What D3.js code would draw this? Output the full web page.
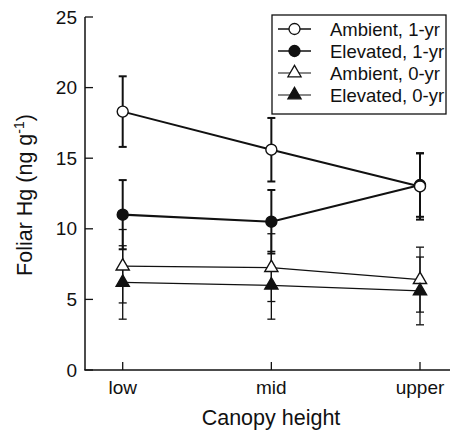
<!DOCTYPE html>
<html>
<head>
<meta charset="utf-8">
<script src="https://cdn.jsdelivr.net/npm/d3@7"></script>
<style>
  body { margin: 0; background: #fff; }
  text { font-family: "Liberation Sans", Arial, sans-serif; fill: #111; }
</style>
</head>
<body>
<div id="chart"></div>
<script>
// canopy positions and y ticks
const heights = ["low", "mid", "upper"];
const yTicks = [0, 5, 10, 15, 20, 25];

// series means and error bars (ng g-1)
const ambient1Mean = [18.3, 15.6, 13.0];
const ambient1Err = [2.5, 2.25, 2.35];
const elevated1Mean = [11.0, 10.5, 13.1];
const elevated1Err = [2.45, 2.25, 2.25];
const ambient0Mean = [7.35, 7.25, 6.4];
const ambient0Err = [2.6, 2.4, 2.3];
const elevated0Mean = [6.2, 6.0, 5.6];
const elevated0Err = [2.6, 2.4, 2.4];

const seriesNames = ["Ambient, 1-yr", "Elevated, 1-yr", "Ambient, 0-yr", "Elevated, 0-yr"];

const series = [
  { name: seriesNames[0], mean: ambient1Mean, err: ambient1Err, shape: d3.symbolCircle, fill: "#fff", lw: 2, size: 95 },
  { name: seriesNames[1], mean: elevated1Mean, err: elevated1Err, shape: d3.symbolCircle, fill: "#111", lw: 2.2, size: 95 },
  { name: seriesNames[2], mean: ambient0Mean, err: ambient0Err, shape: d3.symbolTriangle, fill: "#fff", lw: 1.2, size: 75 },
  { name: seriesNames[3], mean: elevated0Mean, err: elevated0Err, shape: d3.symbolTriangle, fill: "#111", lw: 1.2, size: 75 }
];

const width = 452, height = 436;
const svg = d3.select("#chart").append("svg")
  .attr("width", width)
  .attr("height", height);

const axisLeftX = 85, axisRightX = 450;
const y = d3.scaleLinear().domain([0, 25]).range([370, 17]);
const x = d3.scalePoint().domain(heights).range([122.7, 420]);

// axes
svg.append("line")
  .attr("x1", axisLeftX).attr("x2", axisLeftX)
  .attr("y1", y(25)).attr("y2", y(0))
  .attr("stroke", "#111").attr("stroke-width", 1.5);
svg.append("line")
  .attr("x1", axisLeftX - 0.75).attr("x2", axisRightX)
  .attr("y1", y(0)).attr("y2", y(0))
  .attr("stroke", "#111").attr("stroke-width", 1.5);

svg.selectAll(".ytick").data(yTicks).enter().append("line")
  .attr("x1", axisLeftX).attr("x2", axisLeftX + 8)
  .attr("y1", d => y(d)).attr("y2", d => y(d))
  .attr("stroke", "#111").attr("stroke-width", 1.3);
svg.selectAll(".ylab").data(yTicks).enter().append("text")
  .attr("x", 77).attr("y", d => y(d))
  .attr("text-anchor", "end").attr("dominant-baseline", "central")
  .style("font-size", "19px")
  .text(d => d);

svg.selectAll(".xtick").data(heights).enter().append("line")
  .attr("x1", d => x(d)).attr("x2", d => x(d))
  .attr("y1", y(0)).attr("y2", y(0) - 8)
  .attr("stroke", "#111").attr("stroke-width", 1.3);
svg.selectAll(".xlab").data(heights).enter().append("text")
  .attr("x", d => x(d)).attr("y", 394)
  .attr("text-anchor", "middle")
  .style("font-size", "19px")
  .text(d => d);

// axis titles
svg.append("text")
  .attr("x", 271).attr("y", 425)
  .attr("text-anchor", "middle")
  .style("font-size", "21.5px")
  .text("Canopy height");

const yt = svg.append("text")
  .attr("transform", "translate(32,195) rotate(-90)")
  .attr("text-anchor", "middle")
  .style("font-size", "21.5px");
yt.append("tspan").text("Foliar Hg (ng g");
yt.append("tspan").attr("dy", -8).style("font-size", "14px").text("-1");
yt.append("tspan").attr("dy", 8).text(")");

// lines
const line = d3.line().x((d, i) => x(heights[i])).y(d => y(d));
series.forEach(s => {
  svg.append("path")
    .datum(s.mean)
    .attr("d", line)
    .attr("fill", "none")
    .attr("stroke", "#111")
    .attr("stroke-width", s.lw);
});

// error bars
series.forEach(s => {
  const g = svg.append("g").attr("stroke", "#111").attr("stroke-width", s.lw > 1.5 ? 2 : 1.3);
  s.mean.forEach((m, i) => {
    const cx = x(heights[i]);
    const lo = y(m - s.err[i]), hi = y(m + s.err[i]);
    g.append("line").attr("x1", cx).attr("x2", cx).attr("y1", lo).attr("y2", hi);
    g.append("line").attr("x1", cx - 4).attr("x2", cx + 4).attr("y1", lo).attr("y2", lo);
    g.append("line").attr("x1", cx - 4).attr("x2", cx + 4).attr("y1", hi).attr("y2", hi);
  });
});

// markers (open circles end up on top of the filled ones)
[series[1], series[0], series[2], series[3]].forEach(s => {
  svg.selectAll(null).data(s.mean).enter().append("path")
    .attr("transform", (d, i) => `translate(${x(heights[i])},${y(d)})`)
    .attr("d", d3.symbol().type(s.shape).size(s.size))
    .attr("fill", s.fill)
    .attr("stroke", "#111")
    .attr("stroke-width", 1.4);
});

// legend
const legend = svg.append("g");
legend.append("rect")
  .attr("x", 272).attr("y", 15)
  .attr("width", 174).attr("height", 99)
  .attr("fill", "#fff")
  .attr("stroke", "#111").attr("stroke-width", 1.3);

series.forEach((s, i) => {
  const ly = 29 + i * 22;
  legend.append("line")
    .attr("x1", 278).attr("x2", 311)
    .attr("y1", ly).attr("y2", ly)
    .attr("stroke", "#111").attr("stroke-width", s.lw > 1.5 ? 1.6 : 1.1);
  legend.append("path")
    .attr("transform", `translate(294.5,${ly})`)
    .attr("d", d3.symbol().type(s.shape).size(s.size))
    .attr("fill", s.fill)
    .attr("stroke", "#111").attr("stroke-width", 1.3);
  legend.append("text")
    .attr("x", 330).attr("y", ly)
    .attr("dominant-baseline", "central")
    .style("font-size", "18.5px")
    .text(s.name);
});
</script>
</body>
</html>
